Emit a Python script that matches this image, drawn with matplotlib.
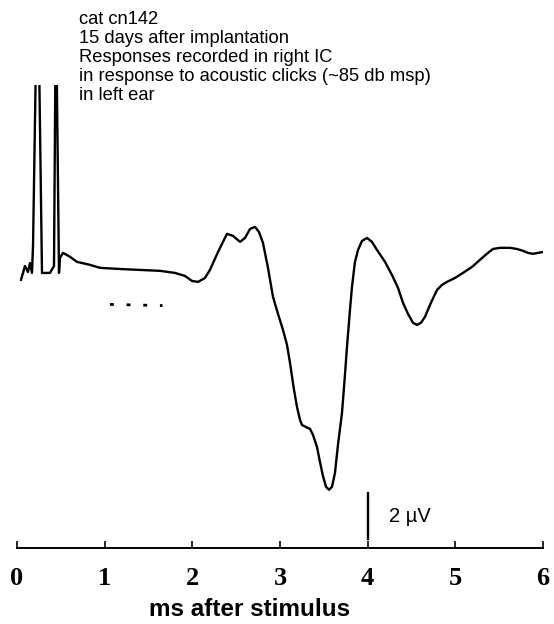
import numpy as np
import matplotlib.pyplot as plt

# evoked response, time in ms, amplitude in µV (0 = pre-stimulus baseline)
time_ms = [0.046, 0.091, 0.125, 0.148, 0.171, 0.183, 0.217, 0.251, 0.285, 0.376,
           0.422, 0.439, 0.451, 0.479, 0.490, 0.525, 0.605, 0.684, 0.833, 0.947,
           1.175, 1.403, 1.631, 1.802, 1.916, 1.996, 2.065, 2.144, 2.201, 2.293,
           2.395, 2.464, 2.544, 2.601, 2.658, 2.715, 2.760, 2.806, 2.863, 2.920,
           2.977, 3.034, 3.080, 3.114, 3.160, 3.194, 3.228, 3.251, 3.296, 3.342,
           3.376, 3.422, 3.456, 3.490, 3.525, 3.559, 3.593, 3.627, 3.661, 3.707,
           3.741, 3.764, 3.798, 3.821, 3.855, 3.890, 3.935, 3.992, 4.049, 4.106,
           4.198, 4.277, 4.346, 4.403, 4.460, 4.517, 4.563, 4.608, 4.654, 4.711,
           4.791, 4.848, 4.905, 4.996, 5.087, 5.190, 5.281, 5.372, 5.429, 5.509,
           5.623, 5.703, 5.772, 5.829, 5.886, 5.943, 6.000]
amp_uv = [-0.30, 0.30, 0.04, 0.43, 0.00, 1.22, 9.5, 9.5, 0.00, 0.00,
          0.30, 9.5, 9.5, 0.00, 0.65, 0.87, 0.70, 0.48, 0.35, 0.22,
          0.17, 0.13, 0.09, 0.00, -0.13, -0.35, -0.39, -0.22, 0.13, 0.91,
          1.70, 1.61, 1.35, 1.52, 1.91, 2.00, 1.78, 1.30, 0.22, -1.04,
          -1.78, -2.48, -3.13, -3.91, -5.09, -5.83, -6.39, -6.61, -6.70, -6.78,
          -7.04, -7.57, -8.22, -8.83, -9.30, -9.43, -9.30, -8.70, -7.48, -6.09,
          -4.43, -3.22, -1.61, -0.61, 0.48, 1.00, 1.39, 1.52, 1.35, 1.00,
          0.48, -0.09, -0.65, -1.30, -1.78, -2.17, -2.26, -2.17, -1.91, -1.39,
          -0.74, -0.52, -0.39, -0.22, 0.00, 0.26, 0.57, 0.87, 1.04, 1.09,
          1.09, 1.04, 0.96, 0.87, 0.83, 0.87, 0.91]

# dotted segment under the baseline
dots_t = [1.06, 1.66]
dots_v = [-1.37, -1.42]

xticks = [0, 1, 2, 3, 4, 5, 6]
scale_t = 4.0
scale_v = [-9.55, -11.55]   # 2 µV calibration bar

header_lines = ["cat cn142",
                "15 days after implantation",
                "Responses recorded in right IC",
                "in response to acoustic clicks (~85 db msp)",
                "in left ear"]

W, H = 554, 624
fig = plt.figure(figsize=(W / 100, H / 100), dpi=100)
ax = fig.add_axes([17 / W, 76 / H, 526 / W, 463 / H])

ax.plot(time_ms, amp_uv, color='black', lw=1.7, solid_joinstyle='round')
ax.plot(dots_t, dots_v, color='black', lw=2, dashes=(1.4, 4.6))
ax.plot([scale_t, scale_t], scale_v, color='black', lw=1.7)
ax.text(4.24, np.mean(scale_v) - 0.05, "2 µV", fontsize=14.5, family='Liberation Sans',
        va='center', ha='left')

ax.set_xlim(0, 6)
ax.set_ylim(-11.96, 8.17)
for s in ['top', 'right', 'left']:
    ax.spines[s].set_visible(False)
ax.spines['bottom'].set_linewidth(1.4)
ax.set_yticks([])
ax.set_xticks(xticks)
ax.set_xticklabels([str(t) for t in xticks], family='Liberation Serif',
                   fontweight='bold', fontsize=19)
ax.tick_params(axis='x', direction='in', length=5, width=1.2, pad=14)

ax.set_xlabel("ms after stimulus", family='Liberation Sans', fontweight='bold',
              fontsize=17.5)
ax.xaxis.set_label_coords(233 / 526, -50 / 463)

for i, line in enumerate(header_lines):
    fig.text(79 / W, 1 - (24.5 + i * 18.75) / H, line, family='Liberation Sans',
             fontsize=13.2, va='baseline', ha='left')

fig.savefig('out.png', dpi=100, facecolor='white')
